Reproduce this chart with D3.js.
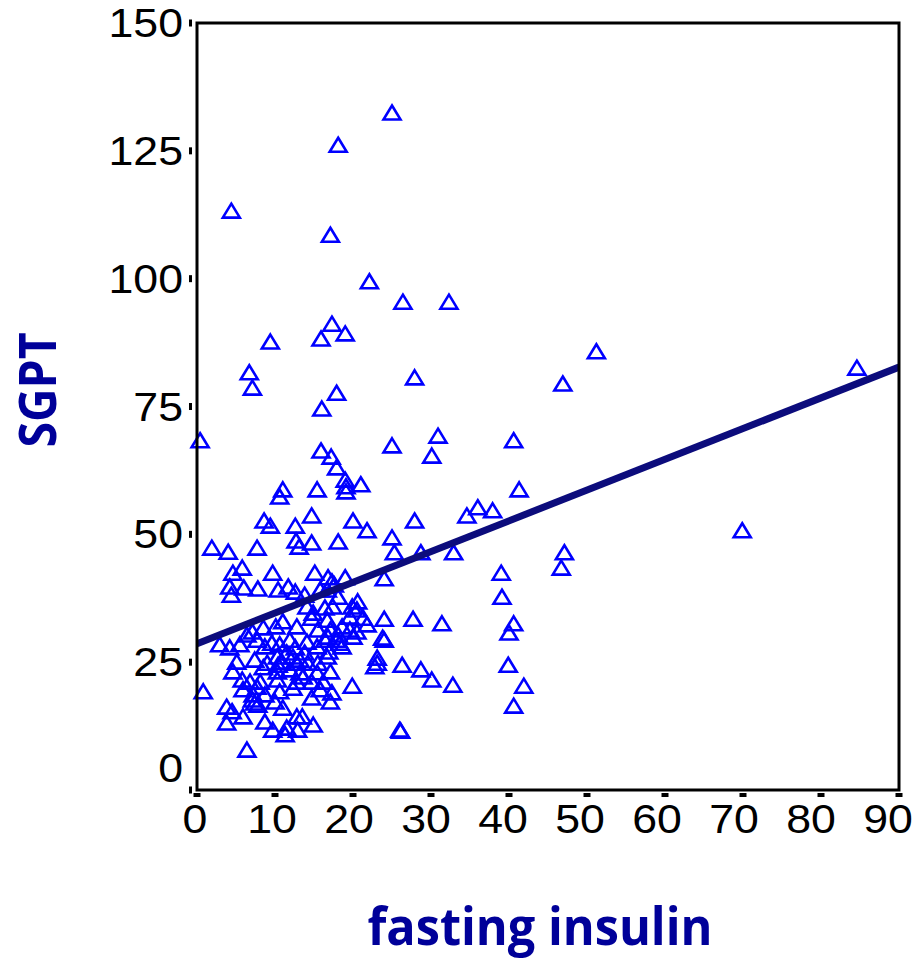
<!DOCTYPE html>
<html>
<head>
<meta charset="utf-8">
<script src="https://cdn.jsdelivr.net/npm/d3@7"></script>
<style>
  html, body { margin: 0; padding: 0; background: #fff; }
  svg { display: block; }
</style>
</head>
<body>
<svg id="chart" width="918" height="959"></svg>
<script>
// Fasting insulin (x) against SGPT (y), one triangle per subject
const insulin = [
  25.0, 18.1, 4.4, 17.1, 22.1, 26.4, 32.3, 51.2, 84.6, 9.4,
  15.9, 19.0, 17.3, 6.7, 7.1, 27.9, 46.9, 17.9, 16.0, 0.4,
  30.9, 40.6, 25.0, 15.9, 17.2, 30.1, 17.9, 19.0, 19.1, 21.0,
  19.1, 11.0, 10.6, 15.4, 41.3, 36.0, 37.9, 34.6, 14.7, 27.9,
  20.0, 8.6, 9.4, 21.8, 12.6, 69.9, 25.0, 18.1, 12.7, 14.7,
  13.1, 7.7, 1.9, 4.0, 25.3, 28.7, 32.9, 47.1, 46.7, 5.8,
  4.6, 9.7, 39.0, 24.0, 39.1, 40.6, 40.0, 39.9, 31.4, 27.7,
  24.0, 24.0, 30.1, 32.8, 41.9, 40.6, 28.7, 26.3, 26.0, 26.1,
  19.9, 4.2, 4.4, 6.0, 7.8, 15.1, 16.8, 17.3, 19.0, 10.4,
  11.7, 12.6, 13.8, 15.8, 17.6, 18.1, 20.6, 19.9, 14.1, 14.9,
  16.4, 17.4, 20.5, 21.3, 19.6, 14.7, 16.7, 21.8, 18.6, 15.5,
  17.1, 19.6, 23.8, 16.4, 17.9, 14.1, 20.0, 12.8, 11.0, 10.1,
  8.5, 7.1, 6.4, 2.9, 4.2, 5.5, 7.7, 8.7, 10.6, 11.9,
  15.4, 16.8, 18.3, 5.1, 7.4, 9.0, 10.3, 10.9, 11.5, 12.3,
  12.8, 13.8, 14.2, 15.5, 16.7, 16.9, 18.6, 4.6, 8.5, 10.3,
  11.9, 13.2, 15.4, 17.1, 23.1, 23.1, 22.8, 5.8, 6.8, 8.1,
  10.3, 12.8, 14.7, 16.2, 0.8, 5.9, 7.2, 8.7, 10.6, 12.3,
  14.7, 17.3, 15.8, 3.8, 4.5, 5.9, 7.1, 7.4, 7.8, 11.0,
  12.8, 8.7, 3.8, 11.5, 12.9, 9.7, 11.3, 14.9, 6.4, 13.5,
  17.1, 7.7, 10.4, 10.0, 9.6, 12.6, 13.2, 13.6, 16.7, 20.5,
  18.1
];
const sgpt = [
  132.4, 126.1, 113.2, 108.5, 99.4, 95.4, 95.4, 85.7, 82.5, 87.6,
  88.2, 89.2, 91.1, 81.6, 78.6, 80.6, 79.4, 77.6, 74.5, 68.3,
  69.2, 68.3, 67.3, 66.3, 65.1, 65.3, 63.0, 60.6, 59.3, 59.7,
  58.3, 58.7, 57.3, 58.7, 58.7, 55.2, 54.6, 53.6, 53.6, 52.6,
  52.6, 52.6, 51.6, 50.7, 51.6, 50.7, 49.3, 48.5, 48.7, 48.3,
  47.5, 47.3, 47.3, 46.5, 46.4, 46.4, 46.4, 46.4, 43.4, 43.4,
  42.4, 42.4, 42.4, 41.3, 37.7, 32.5, 30.7, 24.4, 32.5, 33.4,
  33.4, 29.3, 21.5, 20.5, 20.3, 16.4, 23.5, 24.4, 11.7, 11.5,
  20.3, 39.7, 38.1, 39.5, 39.3, 42.4, 41.5, 40.7, 41.5, 39.1,
  39.7, 38.7, 38.1, 39.1, 40.1, 37.7, 36.8, 35.8, 35.8, 34.6,
  35.6, 35.8, 35.2, 33.6, 33.8, 33.6, 33.2, 32.3, 31.9, 31.3,
  31.3, 31.3, 29.7, 29.3, 29.3, 28.9, 29.9, 31.9, 32.9, 31.9,
  31.7, 30.9, 30.3, 28.4, 27.8, 28.4, 29.3, 28.0, 28.4, 29.3,
  28.0, 29.9, 28.7, 25.0, 25.4, 24.8, 26.0, 25.0, 26.8, 26.0,
  24.8, 26.8, 24.8, 24.8, 26.0, 27.0, 28.0, 23.1, 23.9, 23.1,
  23.5, 22.9, 22.9, 23.1, 25.8, 24.8, 24.1, 21.5, 21.1, 21.1,
  21.5, 21.1, 21.1, 21.1, 19.2, 19.6, 18.6, 18.6, 19.2, 19.9,
  18.0, 19.0, 19.6, 16.2, 15.3, 14.3, 17.6, 17.0, 16.6, 16.0,
  14.3, 13.3, 13.1, 12.1, 11.7, 11.7, 10.8, 12.7, 7.8, 14.3,
  17.2, 20.1, 24.4, 17.2, 28.7, 27.8, 25.4, 22.1, 39.1, 30.9,
  30.3
];

// Fitted line end points (insulin, SGPT)
const fitX = [0, 90];
const fitY = [28.6, 82.7];

const xTicks = [0, 10, 20, 30, 40, 50, 60, 70, 80, 90];
const yTicks = [0, 25, 50, 75, 100, 125, 150];

const xLabel = "fasting insulin";
const yLabel = "SGPT";

const svg = d3.select("#chart");
const plotLeft = 197, plotRight = 899, plotTop = 23, plotBottom = 790;

const x = d3.scaleLinear().domain([0, 90]).range([plotLeft, plotRight]);
const y = d3.scaleLinear().domain([0, 150]).range([plotBottom, plotTop]);

svg.append("rect").attr("width", 918).attr("height", 959).attr("fill", "#fff");

// clip for plotted marks
svg.append("clipPath").attr("id", "plotClip")
  .append("rect").attr("x", plotLeft).attr("y", plotTop)
  .attr("width", plotRight - plotLeft).attr("height", plotBottom - plotTop);

// triangle marker, outline only
const tri = "M0,-7.5L8.5,6.5L-8.5,6.5Z";

const pts = insulin.map((v, i) => ({ x: v, y: sgpt[i] }));

svg.append("g")
  .selectAll("path")
  .data(pts)
  .join("path")
  .attr("d", tri)
  .attr("transform", d => `translate(${x(d.x)},${y(d.y)})`)
  .attr("fill", "none")
  .attr("stroke", "#0000ff")
  .attr("stroke-width", 2.6)
  .attr("stroke-linejoin", "miter");

// regression line
svg.append("line")
  .attr("clip-path", "url(#plotClip)")
  .attr("x1", x(fitX[0])).attr("y1", y(fitY[0]))
  .attr("x2", x(fitX[1])).attr("y2", y(fitY[1]))
  .attr("stroke", "#0c0c7c")
  .attr("stroke-width", 7);

// frame
svg.append("rect")
  .attr("x", plotLeft).attr("y", plotTop)
  .attr("width", plotRight - plotLeft).attr("height", plotBottom - plotTop)
  .attr("fill", "none")
  .attr("stroke", "#000")
  .attr("stroke-width", 3);

// y axis ticks and labels
const yAxis = svg.append("g");
yAxis.selectAll("rect")
  .data(yTicks)
  .join("rect")
  .attr("x", plotLeft - 8).attr("y", d => y(d) - 3.5)
  .attr("width", 3).attr("height", 7)
  .attr("fill", "#000");
yAxis.selectAll("text")
  .data(yTicks)
  .join("text")
  .attr("transform", d => `translate(183,${y(d) + 14 - (d === 0 ? 22 : 0)}) scale(1.09,1)`)
  .attr("text-anchor", "end")
  .attr("font-family", "'Liberation Sans', Arial, sans-serif")
  .attr("font-size", 41)
  .attr("fill", "#000")
  .text(d => d);

// x axis ticks and labels
const xAxis = svg.append("g");
xAxis.selectAll("rect")
  .data(xTicks)
  .join("rect")
  .attr("x", d => x(d) - 3.5).attr("y", plotBottom + 3)
  .attr("width", 7).attr("height", 4)
  .attr("fill", "#000");
xAxis.selectAll("text")
  .data(xTicks)
  .join("text")
  .attr("transform", d => `translate(${x(d) - 2 - d / 10},833) scale(1.09,1)`)
  .attr("text-anchor", "middle")
  .attr("font-family", "'Liberation Sans', Arial, sans-serif")
  .attr("font-size", 41)
  .attr("fill", "#000")
  .text(d => d);

// axis titles
svg.append("text")
  .attr("x", 540).attr("y", 945)
  .attr("text-anchor", "middle")
  .attr("font-family", "'Open Sans', 'Noto Sans', sans-serif")
  .attr("font-weight", "bold")
  .attr("font-size", 52)
  .attr("textLength", 345)
  .attr("lengthAdjust", "spacingAndGlyphs")
  .attr("fill", "#000099")
  .text(xLabel);

svg.append("text")
  .attr("transform", "translate(56,390) rotate(-90)")
  .attr("text-anchor", "middle")
  .attr("font-family", "'Open Sans', 'Noto Sans', sans-serif")
  .attr("font-weight", "bold")
  .attr("font-size", 52)
  .attr("textLength", 115)
  .attr("lengthAdjust", "spacingAndGlyphs")
  .attr("fill", "#000099")
  .text(yLabel);
</script>
</body>
</html>
